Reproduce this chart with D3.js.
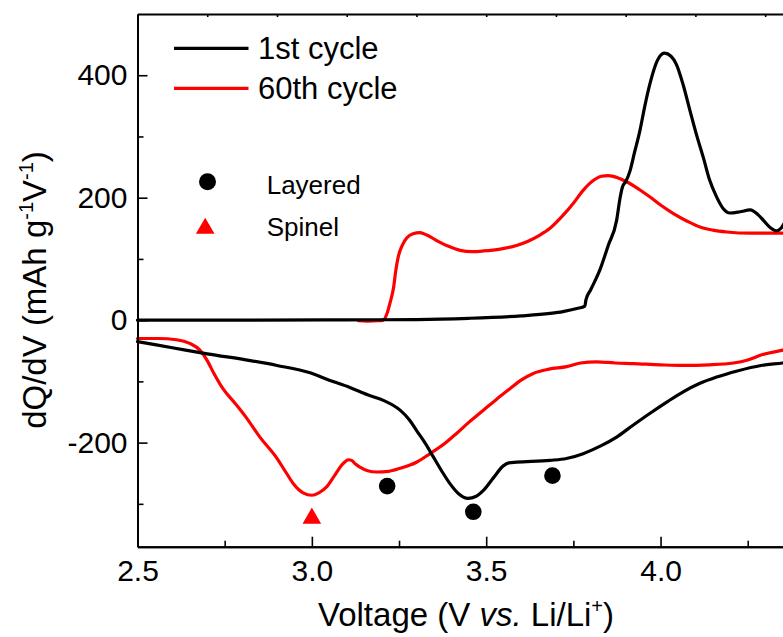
<!DOCTYPE html>
<html><head><meta charset="utf-8">
<script src="https://cdn.jsdelivr.net/npm/d3@7"></script>
<style>
html,body{margin:0;padding:0;background:#fff;overflow:hidden;}
text{font-family:"Liberation Sans",Arial,sans-serif;fill:#000;}
</style></head>
<body>
<svg id="chart" width="783" height="637"></svg>
<script>
// ---- data (Voltage V, dQ/dV mAh g^-1 V^-1) ----
const seriesNames = ["1st cycle", "60th cycle"];
const seriesColors = ["#000000", "#ff0000"];

const charge1st = [[2.5,0],[2.8,0],[3.1,0.5],[3.3,1],[3.45,3],[3.6,7],[3.683,11],[3.72,14],[3.76,19],[3.783,23],[3.786,33],[3.80,50],[3.826,82],[3.85,122],[3.874,163],[3.884,200],[3.891,218],[3.90,226],[3.912,243],[3.925,273],[3.941,310],[3.955,350],[3.97,387],[3.99,423],[4.011,436],[4.03,431],[4.046,417],[4.065,384],[4.084,343],[4.103,303],[4.123,265],[4.14,230],[4.161,201],[4.18,182],[4.199,175],[4.228,177],[4.257,180],[4.28,172],[4.295,163],[4.315,151],[4.333,146],[4.345,150],[4.36,163],[4.4,185]];

const charge60th = [[3.133,-1],[3.16,-1.5],[3.19,-1],[3.205,0],[3.215,10],[3.225,30],[3.234,52],[3.241,82],[3.248,104],[3.26,123],[3.272,134],[3.29,141],[3.31,143],[3.33,139],[3.358,130],[3.39,121],[3.425,114],[3.46,112],[3.492,113],[3.54,116],[3.587,122],[3.62,129],[3.654,139],[3.683,150],[3.72,171],[3.75,191],[3.778,212],[3.807,228],[3.83,235],[3.85,236],[3.875,233],[3.903,226],[3.94,213],[3.97,201],[4.0,188],[4.037,174],[4.075,162],[4.113,152],[4.15,147],[4.19,144],[4.257,142],[4.35,142],[4.4,142]];

const discharge1st = [[2.5,-35],[2.6,-45],[2.7,-55],[2.823,-66],[2.9,-74],[2.995,-86],[3.05,-98],[3.109,-110],[3.16,-122],[3.205,-131],[3.253,-147],[3.28,-163],[3.30,-180],[3.325,-201],[3.348,-223],[3.372,-246],[3.396,-267],[3.42,-283],[3.448,-291],[3.47,-288],[3.492,-278],[3.52,-258],[3.549,-238],[3.565,-233],[3.587,-232],[3.683,-229],[3.73,-226],[3.778,-218],[3.83,-205],[3.874,-191],[3.92,-172],[3.97,-152],[4.02,-133],[4.065,-117],[4.11,-104],[4.161,-93],[4.22,-83],[4.288,-74],[4.35,-70],[4.4,-66]];

const discharge60th = [[2.5,-30],[2.56,-30],[2.612,-32],[2.65,-38],[2.679,-49],[2.7,-66],[2.72,-88],[2.745,-112],[2.78,-136],[2.813,-160],[2.851,-191],[2.899,-225],[2.925,-248],[2.947,-267],[2.975,-282],[3.0,-286],[3.02,-282],[3.043,-272],[3.065,-254],[3.09,-234],[3.105,-228],[3.114,-229],[3.125,-235],[3.138,-240],[3.16,-246],[3.186,-248],[3.22,-247],[3.253,-242],[3.3,-232],[3.339,-218],[3.38,-202],[3.415,-185],[3.45,-167],[3.492,-147],[3.53,-129],[3.568,-112],[3.6,-98],[3.635,-87],[3.68,-80],[3.731,-76],[3.77,-70],[3.817,-68],[3.87,-70],[3.922,-71],[4.0,-73],[4.065,-74],[4.14,-73],[4.209,-70],[4.25,-65],[4.288,-57],[4.35,-49],[4.4,-42]];

const layeredPoints = [[3.216,-271],[3.463,-313],[3.69,-254]];
const spinelPoints = [[3.0,-322]];
const markerNames = ["Layered", "Spinel"];

const xMajorTicks = [2.5,3.0,3.5,4.0];
const xMinorTicks = [2.75,3.25,3.75,4.25];
const xTopTicks = [2.7,2.9,3.1,3.3,3.5,3.7,3.9,4.1,4.3];
const yMajorTicks = [-200,0,200,400];
const yMinorTicks = [-300,-100,100,300];

// ---- layout ----
const svg = d3.select("#chart");
const mLeft = 137.5, mTop = 14, mBottom = 546.7;
const x = d3.scaleLinear().domain([2.5,4.5]).range([mLeft, mLeft + 348.7*2]);
const y = d3.scaleLinear().domain([-370,500]).range([mBottom, mTop]);

// lines
const line = d3.line().x(d=>x(d[0])).y(d=>y(d[1])).curve(d3.curveMonotoneX);
const curves = [[charge60th,1],[discharge60th,1],[charge1st,0],[discharge1st,0]];
svg.append("g").selectAll("path").data(curves).join("path")
  .attr("d", d=>line(d[0])).attr("fill","none")
  .attr("stroke", d=>seriesColors[d[1]]).attr("stroke-width",3.2)
  .attr("stroke-linejoin","round").attr("stroke-linecap","round");

// markers
svg.append("g").selectAll("circle").data(layeredPoints).join("circle")
  .attr("cx",d=>x(d[0])).attr("cy",d=>y(d[1])).attr("r",8.3).attr("fill","#000");
const tri = d3.symbol().type(d3.symbolTriangle).size(150);
svg.append("g").selectAll("path").data(spinelPoints).join("path")
  .attr("transform",d=>`translate(${x(d[0])},${y(d[1])+1})`).attr("d",tri()).attr("fill","#ff0000");

// axes
const axisStyle = g => { g.select(".domain").attr("stroke-width",2); g.selectAll(".tick line").attr("stroke-width",1.6); };
svg.append("g").attr("transform",`translate(0,${mBottom})`)
  .call(d3.axisBottom(x).tickValues(xMajorTicks).tickFormat(d=>d.toFixed(1)).tickSizeInner(-10).tickSizeOuter(0).tickPadding(13))
  .call(axisStyle)
  .call(g=>g.selectAll("text").attr("font-size",30).attr("font-family","Liberation Sans, Arial, sans-serif"));
svg.append("g").attr("transform",`translate(0,${mBottom})`)
  .call(d3.axisBottom(x).tickValues(xMinorTicks).tickFormat("").tickSizeInner(-6).tickSizeOuter(0))
  .call(axisStyle);
svg.append("g").attr("transform",`translate(0,${mTop})`)
  .call(d3.axisTop(x).tickValues(xTopTicks).tickFormat("").tickSizeInner(-3).tickSizeOuter(0))
  .call(axisStyle);
svg.append("g").attr("transform",`translate(${mLeft},0)`)
  .call(d3.axisLeft(y).tickValues(yMajorTicks).tickFormat(d=>String(d)).tickSizeInner(-10).tickSizeOuter(0).tickPadding(10))
  .call(axisStyle)
  .call(g=>g.selectAll("text").attr("font-size",30).attr("font-family","Liberation Sans, Arial, sans-serif"));
svg.append("g").attr("transform",`translate(${mLeft},0)`)
  .call(d3.axisLeft(y).tickValues(yMinorTicks).tickFormat("").tickSizeInner(-6).tickSizeOuter(0))
  .call(axisStyle);

// axis titles
const xt = svg.append("text").attr("x",466).attr("y",626).attr("text-anchor","middle").attr("font-size",33);
xt.append("tspan").text("Voltage (V ");
xt.append("tspan").attr("font-style","italic").text("vs.");
xt.append("tspan").text(" Li/Li");
xt.append("tspan").attr("font-size",20).attr("dy",-13).text("+");
xt.append("tspan").attr("dy",13).text(")");

const yt = svg.append("text").attr("transform","translate(46,290) rotate(-90)").attr("text-anchor","middle").attr("font-size",33);
yt.append("tspan").text("dQ/dV (mAh g");
yt.append("tspan").attr("font-size",20).attr("dy",-13).text("-1");
yt.append("tspan").attr("dy",13).text("V");
yt.append("tspan").attr("font-size",20).attr("dy",-13).text("-1");
yt.append("tspan").attr("dy",13).text(")");

// legend for lines
const legY = [48.3, 88.3];
seriesNames.forEach((n,i)=>{
  svg.append("line").attr("x1",174).attr("x2",248.5).attr("y1",legY[i]).attr("y2",legY[i])
    .attr("stroke",seriesColors[i]).attr("stroke-width",3.2);
  svg.append("text").attr("x",258).attr("y",legY[i]+11).attr("font-size",31).text(n);
});
// marker legend
svg.append("circle").attr("cx",207.5).attr("cy",181.7).attr("r",8.5).attr("fill","#000");
svg.append("path").attr("transform","translate(205.2,228.5)").attr("d",tri()).attr("fill","#ff0000");
svg.append("text").attr("x",266.7).attr("y",194).attr("font-size",26).text(markerNames[0]);
svg.append("text").attr("x",266.7).attr("y",236).attr("font-size",26).text(markerNames[1]);
</script>
</body></html>
